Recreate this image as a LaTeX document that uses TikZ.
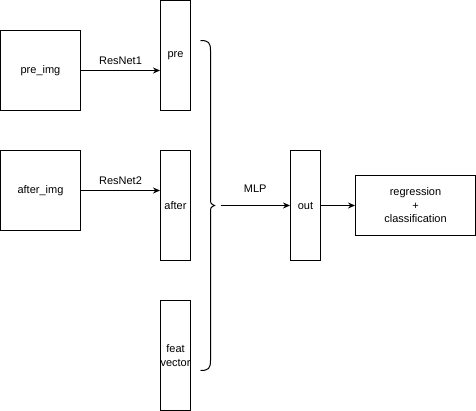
\documentclass[tikz,border=0pt]{standalone}
\usepackage{fontspec}
\setmainfont{Liberation Sans}
\usetikzlibrary{arrows.meta}

\begin{document}
\begin{tikzpicture}[x=1pt,y=-1pt,
  box/.style={draw, line width=1pt, inner sep=0pt, align=center, font=\fontsize{11}{13.5}\selectfont},
  conn/.style={line width=1pt, -{Stealth[length=7pt,width=6pt]}},
  lbl/.style={inner sep=0pt, font=\fontsize{11}{13}\selectfont}]
\useasboundingbox (-0.5,-0.5) rectangle (475.5,410.5);
\node[box, minimum width=80pt, minimum height=80pt] (preimg) at (40,70) {pre\_img};
\node[box, minimum width=30pt, minimum height=110pt] (pre) at (175,55) {pre};
\node[box, minimum width=80pt, minimum height=80pt] (afterimg) at (40,190) {after\_img};
\node[box, minimum width=30pt, minimum height=110pt] (after) at (175,205) {after};
\node[box, minimum width=30pt, minimum height=110pt] (feat) at (175,355) {feat\\\makebox[0pt]{vector}};
\node[box, minimum width=30pt, minimum height=110pt] (out) at (305,205) {out};
\node[box, minimum width=120pt, minimum height=60pt] (result) at (415,205) {regression\\+\\classification};
% brace joining the three features
\draw[line width=1pt] (200,40) .. controls (208,40) and (210,42) .. (210,50) -- (210,198)
  .. controls (210,203) .. (214,205) .. controls (210,207) .. (210,212) -- (210,360)
  .. controls (210,368) and (208,370) .. (200,370);
\coordinate (mlpin) at (220,205);
\draw[conn] (preimg.east) -- node[lbl, above=5pt] (resnetA) {ResNet1} (preimg.east -| pre.west);
\draw[conn] (afterimg.east) -- node[lbl, above=5pt] (resnetB) {ResNet2} (afterimg.east -| after.west);
\draw[conn] (mlpin) -- node[lbl, above=12pt] (mlp) {MLP} (out.west);
\draw[conn] (out) -- (result);
\end{tikzpicture}
\end{document}
